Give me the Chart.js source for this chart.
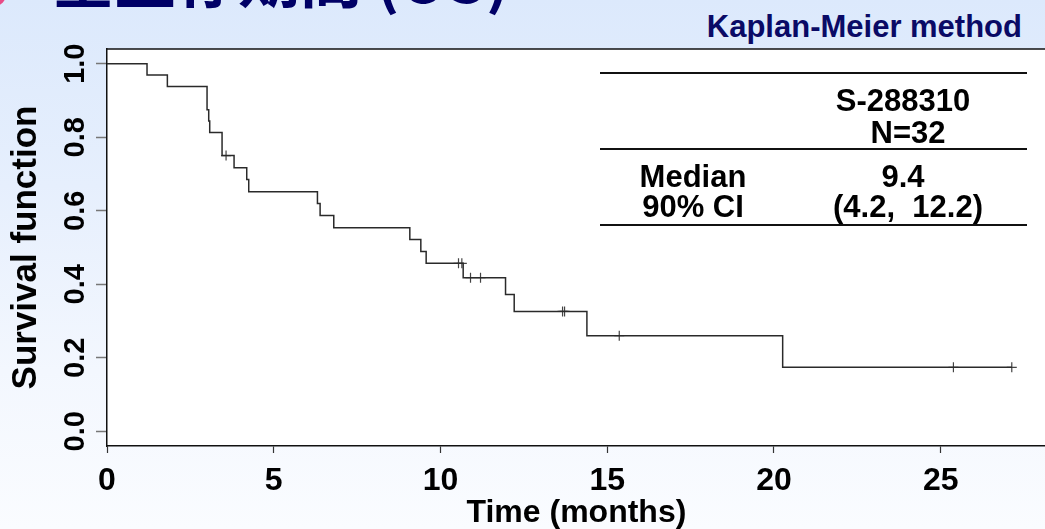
<!DOCTYPE html>
<html>
<head>
<meta charset="utf-8">
<script src="https://cdn.jsdelivr.net/npm/chart.js@4/dist/chart.umd.min.js"></script>
<style>
  html, body { margin: 0; padding: 0; }
  body {
    width: 1045px; height: 529px; overflow: hidden; position: relative;
    background: linear-gradient(to bottom, #dce9fc 0%, #e6effd 35%, #f3f7fe 70%, #fafcff 100%);
    font-family: "Liberation Sans", Arial, sans-serif;
  }
  #wrap { position: absolute; left: 0; top: 0; width: 1052px; height: 529px; }
  #km { width: 1052px; height: 529px; }
  .bullet { position: absolute; left: -17px; top: -17px; width: 23px; height: 23px; border-radius: 50%; background: #e84a86; }
  .title { position: absolute; left: 52px; top: -55px; font: bold 62px "Noto Sans CJK JP", sans-serif; color: #000066; line-height: 1; white-space: nowrap; }
  .method { position: absolute; right: 23px; top: 11px; font-weight: bold; font-size: 31px; color: #0a0a66; line-height: 1; white-space: nowrap; }
  .rule { position: absolute; left: 600px; width: 427px; height: 2px; background: #111; }
  .cell { position: absolute; transform: translate(-50%, -50%); font-weight: bold; font-size: 31px; line-height: 1; color: #000; white-space: pre; }
</style>
</head>
<body>
<div class="bullet"></div>
<div class="title">全生存期間 (OS)</div>
<div class="method">Kaplan-Meier method</div>
<div id="wrap"><canvas id="km"></canvas></div>

<div class="rule" style="top:72px"></div>
<div class="rule" style="top:148px"></div>
<div class="rule" style="top:224px"></div>
<div class="cell" style="left:903px; top:100px">S-288310</div>
<div class="cell" style="left:908px; top:132px">N=32</div>
<div class="cell" style="left:693px; top:176px">Median</div>
<div class="cell" style="left:903px; top:176px">9.4</div>
<div class="cell" style="left:693px; top:206px">90% CI</div>
<div class="cell" style="left:908px; top:206px">(4.2,  12.2)</div>

<script>
// step curve (months, survival after the step)
const kmTimes = [0, 1.2, 1.81, 3.0, 3.05, 3.08, 3.45, 3.81, 4.19, 4.25, 6.31, 6.39, 6.8, 9.08, 9.41, 9.57, 10.68, 11.95, 12.21, 14.39, 20.26, 27.13];
const kmSurv = [1.0, 0.969, 0.938, 0.875, 0.844, 0.813, 0.75, 0.717, 0.685, 0.652, 0.62, 0.587, 0.554, 0.522, 0.489, 0.457, 0.418, 0.372, 0.326, 0.26, 0.174, 0.174];
// censored observations (+ marks)
const censorTimes = [3.57, 10.54, 10.64, 10.9, 11.2, 13.66, 13.72, 15.36, 25.38, 27.13];
const censorSurv = [0.75, 0.457, 0.457, 0.418, 0.418, 0.326, 0.326, 0.26, 0.174, 0.174];

const xTicks = [0, 5, 10, 15, 20, 25];
const yTicks = [0, 0.2, 0.4, 0.6, 0.8, 1.0];

const FONT = '"Liberation Sans", Arial, sans-serif';

const kmPoints = kmTimes.map((t, i) => ({ x: t, y: kmSurv[i] }));
const censorPoints = censorTimes.map((t, i) => ({ x: t, y: censorSurv[i] }));

// white plot panel + top frame line
const panel = {
  id: 'panel',
  beforeDraw(chart) {
    const { ctx, chartArea: a } = chart;
    ctx.save();
    ctx.fillStyle = '#ffffff';
    ctx.fillRect(a.left, a.top, a.right - a.left, a.bottom - a.top);
    ctx.restore();
  },
  afterDraw(chart) {
    const { ctx, chartArea: a } = chart;
    ctx.save();
    ctx.strokeStyle = '#111';
    ctx.lineWidth = 1.5;
    ctx.beginPath();
    ctx.moveTo(a.left, a.top);
    ctx.lineTo(a.right, a.top);
    ctx.stroke();
    ctx.restore();
  }
};

new Chart(document.getElementById('km'), {
  type: 'line',
  data: {
    datasets: [
      {
        data: kmPoints,
        stepped: 'before',
        borderColor: '#2a2a2a',
        borderWidth: 1.5,
        pointRadius: 0,
        fill: false,
      },
      {
        type: 'scatter',
        data: censorPoints,
        pointStyle: 'cross',
        pointRadius: 5,
        borderColor: '#444',
        borderWidth: 1.2,
      },
    ],
  },
  options: {
    responsive: true,
    maintainAspectRatio: false,
    animation: false,
    layout: { padding: { top: 49, right: 1, left: 0, bottom: 0 } },
    plugins: {
      legend: { display: false },
      tooltip: { enabled: false },
    },
    scales: {
      x: {
        type: 'linear',
        min: 0,
        max: 28.15,
        afterFit: (s) => { s.height = 83; },
        afterBuildTicks: (s) => { s.ticks = xTicks.map((v) => ({ value: v })); },
        grid: { drawOnChartArea: false, tickLength: 7, tickColor: '#333', tickWidth: 1.2 },
        border: { color: '#111', width: 1.5 },
        ticks: {
          padding: 9,
          color: '#000',
          maxRotation: 0,
          font: { family: FONT, size: 32, weight: 'bold' },
        },
        title: {
          display: true,
          text: 'Time (months)',
          color: '#000',
          padding: { top: 0, bottom: -3 },
          font: { family: FONT, size: 32, weight: 'bold' },
        },
      },
      y: {
        min: -0.04,
        max: 1.04,
        afterFit: (s) => { s.width = 107; },
        afterBuildTicks: (s) => { s.ticks = yTicks.map((v) => ({ value: v })); },
        grid: { drawOnChartArea: false, tickLength: 11, tickColor: '#777', tickWidth: 1.5 },
        border: { color: '#111', width: 1.5 },
        ticks: {
          padding: 0,
          color: '#000',
          minRotation: 90,
          maxRotation: 90,
          crossAlign: 'center',
          font: { family: FONT, size: 29, weight: 'bold' },
          callback: (v) => v.toFixed(1),
        },
        title: {
          display: true,
          text: 'Survival function',
          color: '#000',
          padding: { top: 5, bottom: 0 },
          font: { family: FONT, size: 35, weight: 'bold' },
        },
      },
    },
  },
  plugins: [panel],
});
</script>
</body>
</html>
